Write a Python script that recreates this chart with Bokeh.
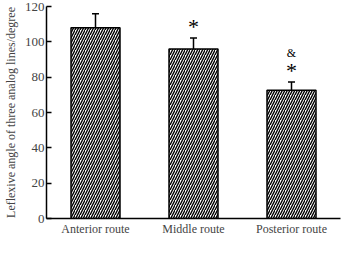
from bokeh.plotting import figure
from bokeh.models import ColumnDataSource, Whisker, TeeHead, Range1d, FactorRange
from bokeh.embed import file_html
from bokeh.resources import INLINE
from bokeh.core.properties import value

routes = ["Anterior route", "Middle route", "Posterior route"]
means = [108.0, 95.9, 72.6]
errors = [7.9, 6.2, 4.6]
star_marks = ["", "*", "*"]
amp_marks = ["", "", "&"]

FONT = "Liberation Serif"

upper = [m + e for m, e in zip(means, errors)]
src = ColumnDataSource(dict(x=routes, top=means, upper=upper,
                            star=star_marks, amp=amp_marks,
                            star_y=[u + 10 for u in upper],
                            amp_y=[u + 16.5 for u in upper]))

p = figure(width=344, height=238, x_range=FactorRange(*routes, range_padding=0),
           y_range=Range1d(0, 120), output_backend="svg", toolbar_location=None,
           min_border_left=0, min_border_right=4, min_border_top=6, min_border_bottom=0)

p.vbar(x="x", top="top", width=0.5, source=src, fill_color="white",
       line_color="black", line_width=1.5, hatch_pattern="/", hatch_color="black",
       hatch_scale=5, hatch_weight=1.4)

w = Whisker(base="x", lower="top", upper="upper", source=src, line_color="black",
            line_width=1.5, upper_head=TeeHead(size=7, line_width=1.5, line_color="black"),
            lower_head=None)
p.add_layout(w)

p.text(x="x", y="star_y", text="star", source=src, text_font=value(FONT),
       text_font_size="22px", text_align="center", text_baseline="middle",
       text_color="black", y_offset=6)
p.text(x="x", y="amp_y", text="amp", source=src, text_font=value(FONT),
       text_font_size="12px", text_align="center", text_baseline="middle",
       text_color="black")

p.xgrid.visible = False
p.ygrid.visible = False
p.outline_line_color = None

p.yaxis.ticker = [0, 20, 40, 60, 80, 100, 120]
p.yaxis.axis_label = "Leflexive angle of three analog lines/degree"
p.yaxis.axis_label_text_font = FONT
p.yaxis.axis_label_text_font_style = "normal"
p.yaxis.axis_label_text_font_size = "12px"
p.yaxis.axis_label_standoff = 4
p.yaxis.major_label_text_font = FONT
p.yaxis.major_label_text_font_size = "13px"
p.yaxis.major_label_standoff = 2
p.yaxis.major_tick_in = 5
p.yaxis.major_tick_out = 0
p.yaxis.minor_tick_line_color = None
p.yaxis.axis_line_width = 1.5
p.yaxis.major_tick_line_width = 1.5

p.xaxis.major_label_text_font = FONT
p.xaxis.major_label_text_font_size = "12px"
p.xaxis.major_label_standoff = 3
p.xaxis.major_tick_in = 0
p.xaxis.major_tick_out = 0
p.xaxis.major_tick_line_color = None
p.xaxis.minor_tick_line_color = None
p.xaxis.axis_label_standoff = 0
p.xaxis.axis_line_width = 1.5

open("out.html", "w").write(file_html(p, INLINE))
